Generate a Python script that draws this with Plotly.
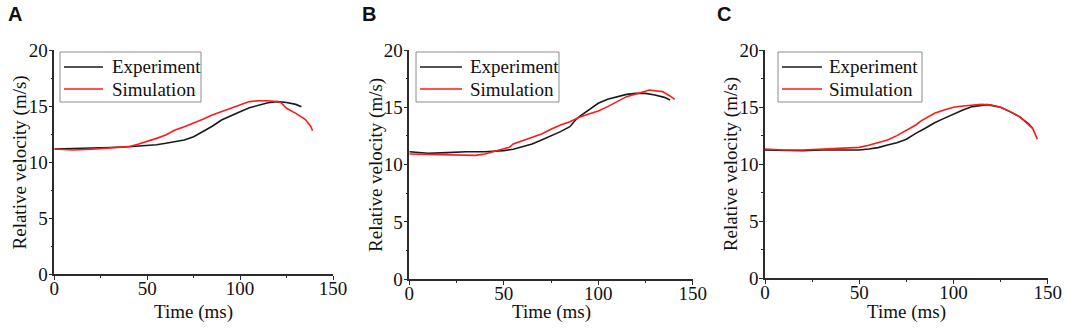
import plotly.graph_objects as go

# ---------------- data ----------------
# Panel A
a_exp_t = [0, 10, 20, 30, 40, 50, 55, 60, 65, 70, 75, 80, 85, 90, 95, 100, 105, 110, 115, 120, 125, 130, 133]
a_exp_v = [11.17, 11.2, 11.25, 11.3, 11.37, 11.45, 11.55, 11.68, 11.82, 11.98, 12.27, 12.72, 13.2, 13.76, 14.15, 14.5, 14.85, 15.1, 15.3, 15.4, 15.32, 15.15, 14.95]
a_sim_t = [0, 5, 10, 20, 30, 40, 45, 50, 55, 60, 65, 70, 75, 80, 85, 90, 95, 100, 105, 110, 115, 120, 122, 125, 130, 135, 138, 139]
a_sim_v = [11.17, 11.1, 11.08, 11.15, 11.25, 11.38, 11.6, 11.83, 12.12, 12.42, 12.87, 13.16, 13.46, 13.82, 14.2, 14.5, 14.8, 15.1, 15.4, 15.48, 15.48, 15.4, 15.3, 14.8, 14.35, 13.82, 13.2, 12.8]

# Panel B
b_exp_t = [0, 10, 20, 30, 40, 50, 55, 60, 65, 70, 75, 80, 85, 88, 90, 95, 100, 105, 110, 111, 115, 120, 125, 130, 135, 138]
b_exp_v = [11.13, 10.99, 11.05, 11.13, 11.13, 11.22, 11.34, 11.57, 11.8, 12.15, 12.5, 12.88, 13.31, 13.9, 14.19, 14.77, 15.35, 15.7, 15.93, 16.0, 16.13, 16.22, 16.22, 16.08, 15.87, 15.64]
b_sim_t = [0, 10, 20, 30, 35, 40, 45, 50, 53, 55, 60, 65, 70, 75, 80, 85, 90, 95, 100, 105, 110, 115, 120, 125, 127, 130, 134, 138, 140.5]
b_sim_v = [10.93, 10.9, 10.84, 10.78, 10.81, 10.93, 11.13, 11.34, 11.51, 11.8, 12.09, 12.38, 12.67, 13.08, 13.46, 13.75, 14.13, 14.42, 14.68, 15.06, 15.49, 15.93, 16.16, 16.37, 16.51, 16.45, 16.37, 15.99, 15.7]

# Panel C
c_exp_t = [0, 10, 20, 30, 40, 50, 55, 60, 65, 70, 75, 80, 85, 90, 95, 100, 105, 110, 115, 118, 120, 125, 130, 135, 140, 142]
c_exp_v = [11.24, 11.18, 11.18, 11.24, 11.24, 11.24, 11.33, 11.45, 11.68, 11.88, 12.18, 12.7, 13.14, 13.63, 14.01, 14.39, 14.74, 15.04, 15.18, 15.21, 15.15, 14.98, 14.6, 14.16, 13.52, 13.14]
c_sim_t = [0, 10, 20, 30, 40, 50, 55, 60, 65, 70, 75, 80, 83, 85, 90, 95, 100, 105, 110, 115, 120, 125, 130, 135, 140, 142, 144.5]
c_sim_v = [11.33, 11.24, 11.24, 11.3, 11.36, 11.47, 11.65, 11.88, 12.12, 12.5, 12.99, 13.43, 13.81, 14.01, 14.45, 14.74, 14.98, 15.09, 15.18, 15.24, 15.18, 14.98, 14.6, 14.16, 13.43, 13.14, 12.19]

panel_labels = ["A", "B", "C"]
series_names = ["Experiment", "Simulation"]
x_ticks = [0, 50, 100, 150]
y_ticks = [0, 5, 10, 15, 20]
x_title = "Time (ms)"
y_title = "Relative velocity (m/s)"

# ---------------- figure ----------------
W, H = 1065, 328
SERIF = "Liberation Serif, Times New Roman, serif"
AXC = "#2b2b2b"
BLACK = "#1a1a1a"
RED = "#ff1a1a"
COLORS = [BLACK, RED]

panels = [
    (a_exp_t, a_exp_v, a_sim_t, a_sim_v),
    (b_exp_t, b_exp_v, b_sim_t, b_sim_v),
    (c_exp_t, c_exp_v, c_sim_t, c_sim_v),
]
# pixel geometry of each plot area: (left, right, bottom, top)
geom = [(54.3, 333.0, 274.3, 50.0), (409.3, 692.7, 279.3, 50.0), (765.0, 1047.7, 278.3, 50.0)]
# legend boxes in pixels: (left, right, top, bottom, line_x0, line_x1, text_x)
legend_box = [(60, 201, 52, 102, 64, 103, 110),
              (416, 559, 52, 102, 420, 462, 468),
              (778, 922, 52, 102, 782, 822, 827)]
legend_rows = [67, 89]
label_x = [6, 360, 715]


def px(x):
    return x / W


def py(y):
    return 1 - y / H


fig = go.Figure()
layout = dict(
    width=W, height=H,
    margin=dict(l=0, r=0, t=0, b=0, autoexpand=False),
    paper_bgcolor="white", plot_bgcolor="white",
    font=dict(family=SERIF, size=19, color="#111111"),
    showlegend=False,
    annotations=[], shapes=[],
)

for i, (et, ev, st, sv) in enumerate(panels):
    sfx = "" if i == 0 else str(i + 1)
    fig.add_trace(go.Scatter(x=et, y=ev, mode="lines", name=series_names[0],
                             line=dict(color=BLACK, width=1.6),
                             xaxis="x" + sfx, yaxis="y" + sfx))
    fig.add_trace(go.Scatter(x=st, y=sv, mode="lines", name=series_names[1],
                             line=dict(color=RED, width=1.6),
                             xaxis="x" + sfx, yaxis="y" + sfx))
    l, r, b, t = geom[i]
    common = dict(showgrid=False, zeroline=False, showline=True, linecolor=AXC, linewidth=1.5,
                  ticks="outside", ticklen=4, tickwidth=1.3, tickcolor=AXC, automargin=False,
                  tickfont=dict(family=SERIF, size=19, color="#111111"),
                  minor=dict(ticks="outside", ticklen=2, tickwidth=1.2, tickcolor=AXC))
    layout["xaxis" + sfx] = dict(common, domain=[px(l), px(r)], range=[0, 150],
                                 tickvals=x_ticks, minor=dict(common["minor"], dtick=25, tick0=0),
                                 anchor="y" + sfx, ticklabelstandoff=-8)
    layout["yaxis" + sfx] = dict(common, domain=[py(b), py(t)], range=[0, 20],
                                 tickvals=y_ticks, minor=dict(common["minor"], dtick=2.5, tick0=0),
                                 anchor="x" + sfx, ticklabelstandoff=-3)
    # axis titles
    layout["annotations"].append(dict(text=x_title, x=px((l + r) / 2), y=py(312),
                                      xref="paper", yref="paper", xanchor="center", yanchor="middle",
                                      showarrow=False, font=dict(family=SERIF, size=19, color="#111111")))
    layout["annotations"].append(dict(text=y_title, x=px(l - 34), y=py((b + t) / 2), textangle=-90,
                                      xref="paper", yref="paper", xanchor="center", yanchor="middle",
                                      showarrow=False, font=dict(family=SERIF, size=19, color="#111111")))
    # legend
    bl, br, bt, bb, lx0, lx1, tx = legend_box[i]
    layout["shapes"].append(dict(type="rect", xref="paper", yref="paper",
                                 x0=px(bl), x1=px(br), y0=py(bb), y1=py(bt),
                                 line=dict(color="#8c8c8c", width=1), fillcolor="white", layer="above"))
    for k, name in enumerate(series_names):
        yy = legend_rows[k]
        layout["shapes"].append(dict(type="line", xref="paper", yref="paper",
                                     x0=px(lx0), x1=px(lx1), y0=py(yy), y1=py(yy),
                                     line=dict(color=COLORS[k], width=1.6), layer="above"))
        layout["annotations"].append(dict(text=name, x=px(tx), y=py(yy), xref="paper", yref="paper",
                                          xanchor="left", yanchor="middle", showarrow=False,
                                          font=dict(family=SERIF, size=19, color="#111111")))
    # panel label
    layout["annotations"].append(dict(text="<b>" + panel_labels[i] + "</b>", x=px(label_x[i]), y=py(1),
                                      xref="paper", yref="paper", xanchor="left", yanchor="top",
                                      showarrow=False,
                                      font=dict(family="Liberation Sans, Arial, sans-serif", size=20, color="#111111")))

fig.update_layout(**layout)
# remove the browser's default 8px body margin so the figure fills the window exactly
fig.write_html("out.html",
               config={"displayModeBar": False},
               post_script="document.body.style.margin='0';document.body.style.overflow='hidden';")
